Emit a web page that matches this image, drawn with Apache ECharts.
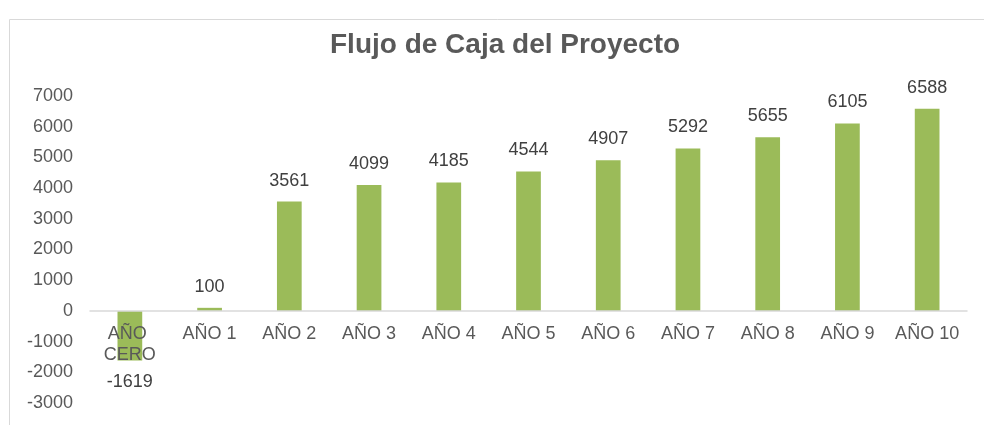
<!DOCTYPE html>
<html>
<head>
<meta charset="utf-8">
<script src="https://cdn.jsdelivr.net/npm/echarts@6/dist/echarts.min.js"></script>
<style>
  html, body { margin: 0; padding: 0; background: #fff; }
  #chart { width: 984px; height: 425px; }
</style>
</head>
<body>
<div id="chart"></div>
<script>
var years = ['AÑO CERO', 'AÑO 1', 'AÑO 2', 'AÑO 3', 'AÑO 4', 'AÑO 5', 'AÑO 6', 'AÑO 7', 'AÑO 8', 'AÑO 9', 'AÑO 10'];
var flujo = [-1619, 100, 3561, 4099, 4185, 4544, 4907, 5292, 5655, 6105, 6588];

var chart = echarts.init(document.getElementById('chart'));

var gridTop = 96, gridBottom = 22;
var yMin = -3000, yMax = 7000;
// distance from the bottom of the grid up to the zero line
var plotH = 425 - gridTop - gridBottom;
var zeroOffset = plotH * (0 - yMin) / (yMax - yMin);

// negative value gets its label under the bar
var barData = [];
for (var i = 0; i < flujo.length; i++) {
    barData.push({
        value: flujo[i],
        label: { position: flujo[i] < 0 ? 'bottom' : 'top' }
    });
}

var option = {
    animation: false,
    textStyle: { fontFamily: 'Liberation Sans, Arial, sans-serif' },
    title: {
        text: 'Flujo de Caja del Proyecto',
        left: 325,
        top: 26,
        textStyle: { fontSize: 28, fontWeight: 'bold', color: '#595959' }
    },
    graphic: [{
        type: 'rect',
        shape: { x: 9.5, y: 19.5, width: 1000, height: 500 },
        style: { fill: 'none', stroke: '#d9d9d9', lineWidth: 1 },
        silent: true
    }],
    grid: { left: 90, right: 17, top: gridTop, bottom: gridBottom, outerBoundsMode: 'none', containLabel: false },
    xAxis: {
        type: 'category',
        data: years,
        offset: -zeroOffset,
        z: 10,
        axisLine: { onZero: false, lineStyle: { color: '#d9d9d9', width: 1.5 } },
        axisTick: { show: false },
        axisLabel: {
            color: '#595959',
            fontSize: 18,
            margin: 13,
            lineHeight: 21,
            width: 70,
            overflow: 'break',
            interval: 0
        }
    },
    yAxis: {
        type: 'value',
        min: yMin,
        max: yMax,
        interval: 1000,
        splitLine: { show: false },
        axisLine: { show: false },
        axisTick: { show: false },
        axisLabel: {
            color: '#595959',
            fontSize: 18,
            margin: 17,
            formatter: function (v) { return String(v); }
        }
    },
    series: [{
        type: 'bar',
        name: 'Flujo',
        data: barData,
        barWidth: '31%',
        itemStyle: { color: '#9bbb59' },
        label: {
            show: true,
            distance: 12,
            color: '#404040',
            fontSize: 18
        }
    }]
};
chart.setOption(option);
</script>
</body>
</html>
